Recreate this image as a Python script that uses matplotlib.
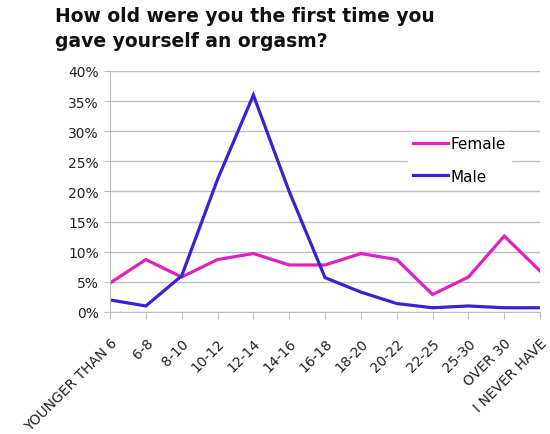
import matplotlib
matplotlib.use("Agg")
import matplotlib.pyplot as plt
from matplotlib.ticker import FuncFormatter

categories = ["YOUNGER THAN 6", "6-8", "8-10", "10-12", "12-14", "14-16", "16-18",
              "18-20", "20-22", "22-25", "25-30", "OVER 30", "I NEVER HAVE"]
female = [4.8, 8.7, 5.8, 8.7, 9.7, 7.8, 7.8, 9.7, 8.7, 2.9, 5.8, 12.6, 6.8]
male = [2.0, 1.0, 6.0, 22.0, 36.0, 20.0, 5.7, 3.3, 1.4, 0.7, 1.0, 0.7, 0.7]

C_FEMALE = "#E020C0"
C_MALE = "#3A22D0"
C_GRID = "#BEBEBE"

fig = plt.figure(figsize=(5.5, 4.35), dpi=100)
ax = fig.add_axes([0.2, 0.2805, 0.782, 0.554])

x = range(len(categories))
ax.plot(x, female, color=C_FEMALE, linewidth=2.3, label="Female", solid_joinstyle="miter")
ax.plot(x, male, color=C_MALE, linewidth=2.3, label="Male", solid_joinstyle="miter")

ax.set_xlim(0, len(categories) - 1)
ax.set_ylim(0, 40)
ax.set_yticks(range(0, 41, 5))
ax.yaxis.set_major_formatter(FuncFormatter(lambda v, p: f"{v:.0f}%"))
ax.grid(axis="y", color=C_GRID, linewidth=1)
ax.set_axisbelow(True)

ax.set_xticks(list(x))
ax.set_xticklabels(categories, rotation=45, ha="right", rotation_mode="anchor")
ax.tick_params(axis="x", direction="out", length=5, color=C_GRID, labelsize=10,
               labelcolor="#222222", pad=12)
ax.tick_params(axis="y", direction="out", length=4, color=C_GRID, labelsize=10,
               labelcolor="#222222", pad=4)
for s in ("top", "right"):
    ax.spines[s].set_visible(False)
for s in ("left", "bottom"):
    ax.spines[s].set_color(C_GRID)

leg = ax.legend(loc="upper left", bbox_to_anchor=(0.675, 0.78), frameon=True,
                fontsize=11, handlelength=2.3, labelspacing=1.15, borderpad=0.3,
                handletextpad=0.2)
leg.get_frame().set_edgecolor("white")
leg.get_frame().set_facecolor("white")
leg.get_frame().set_alpha(1)

fig.text(0.1, 0.985, "How old were you the first time you\ngave yourself an orgasm?",
         ha="left", va="top", fontsize=13.5, fontweight="bold", color="#111111",
         linespacing=1.4)

fig.savefig("out.png", dpi=100, facecolor="white")
